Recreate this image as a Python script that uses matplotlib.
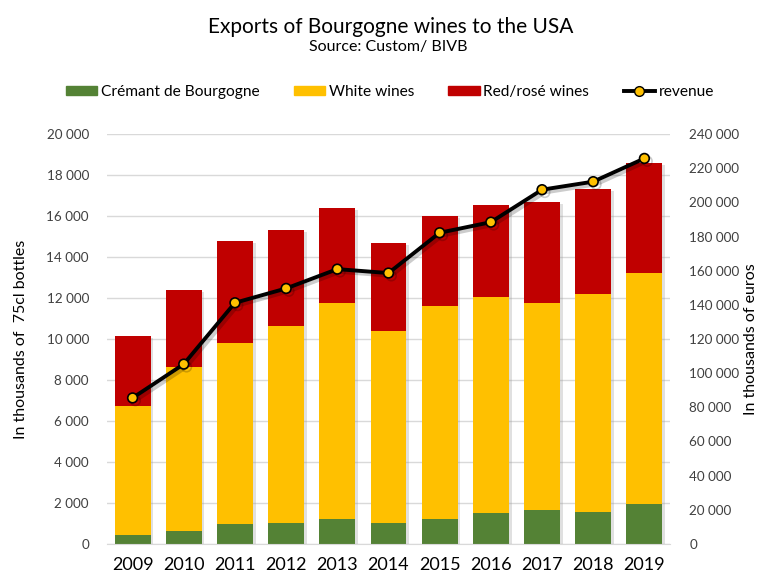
import matplotlib.pyplot as plt
import matplotlib.patheffects as pe
from matplotlib.ticker import FuncFormatter, MultipleLocator
from matplotlib.lines import Line2D
from matplotlib.patches import Patch
import numpy as np

plt.rcParams['font.family'] = ['Lato', 'DejaVu Sans']

annees = ['2009', '2010', '2011', '2012', '2013', '2014', '2015', '2016', '2017', '2018', '2019']
cremant = [440, 630, 990, 1020, 1240, 1020, 1240, 1510, 1670, 1580, 1970]
blancs_haut = [6730, 8620, 9790, 10620, 11770, 10390, 11610, 12070, 11770, 12210, 13200]
total = [10150, 12380, 14800, 15330, 16390, 14700, 16000, 16550, 16700, 17320, 18590]
revenu = [85500, 105300, 141200, 149600, 160900, 158600, 182200, 188400, 207400, 212100, 225700]

blancs = [b - c for b, c in zip(blancs_haut, cremant)]
rouges = [t - b for t, b in zip(total, blancs_haut)]

vert = '#548235'
jaune = '#FFC000'
rouge = '#C00000'

fig = plt.figure(figsize=(7.59, 5.78), dpi=100)
ax = fig.add_axes([107/759, 1-544/578, (670-107)/759, (544-134)/578])
ax2 = ax.twinx()

x = np.arange(len(annees))
for dane, dol, kol in [(cremant, None, vert), (blancs, cremant, jaune), (rouges, blancs_haut, rouge)]:
    ax.bar(x, dane, 0.70, bottom=dol, color=kol, zorder=2)

# cien pod slupkami
for xi, t in zip(x, total):
    ax.bar(xi, t, 0.70, color='none', zorder=1.5,
           path_effects=[pe.SimplePatchShadow(offset=(2, -1.5), shadow_rgbFace='#999999', alpha=0.3)])

ax2.plot(x, revenu, color='black', lw=2.8, marker='o', ms=7, mfc=jaune, mec='black', mew=1.2,
         zorder=3, path_effects=[pe.SimpleLineShadow(offset=(2, -2), alpha=0.2), pe.Normal()])

ax.set_xlim(-0.5, len(annees) - 0.5)
ax.set_ylim(0, 20000)
ax2.set_ylim(0, 240000)
ax.yaxis.set_major_locator(MultipleLocator(2000))
ax2.yaxis.set_major_locator(MultipleLocator(20000))
fmt = FuncFormatter(lambda v, p: f'{int(v):,}'.replace(',', ' '))
ax.yaxis.set_major_formatter(fmt)
ax2.yaxis.set_major_formatter(fmt)

ax.set_xticks(x)
ax.set_xticklabels(annees)
ax.grid(axis='y', color='#D9D9D9', lw=1, zorder=0)
ax.set_axisbelow(True)
for a in (ax, ax2):
    for s in a.spines.values():
        s.set_visible(False)
    a.tick_params(length=0, labelsize=9.7, colors='#404040')
ax.tick_params(axis='x', labelsize=13, colors='black', pad=9)
ax.spines['bottom'].set_visible(True)
ax.spines['bottom'].set_color('#D9D9D9')
ax.tick_params(axis='y', pad=13)
ax2.tick_params(axis='y', pad=14)

ax.set_ylabel('In thousands of  75cl bottles', fontsize=11.5, labelpad=13)
ax2.set_ylabel('In thousands of euros', fontsize=11.5, labelpad=3)

fig.text(391/759, 1-27/578, 'Exports of Bourgogne wines to the USA', ha='center', va='center', fontsize=15)
fig.text(388/759, 1-47/578, 'Source: Custom/ BIVB', ha='center', va='center', fontsize=11.5)

uchwyty = [Patch(color=vert), Patch(color=jaune), Patch(color=rouge),
           Line2D([], [], color='black', lw=2.8, marker='o', ms=7, mfc=jaune, mec='black')]
fig.legend(uchwyty, ['Crémant de Bourgogne', 'White wines', 'Red/rosé wines', 'revenue'],
           loc='center', bbox_to_anchor=(390/759, 1-92/578), ncol=4, frameon=False, fontsize=11.2,
           handlelength=2.0, handletextpad=0.25, columnspacing=2.2, handleheight=0.6)

plt.savefig('out.png', dpi=100)
